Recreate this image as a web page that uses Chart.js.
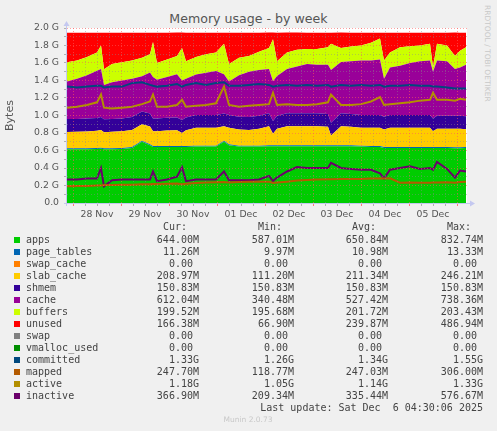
<!DOCTYPE html>
<html>
<head>
<meta charset="UTF-8">
<title>Memory usage - by week</title>
<script src="https://cdn.jsdelivr.net/npm/chart.js@4.4.1/dist/chart.umd.min.js"></script>
<style>
	body { margin:0; background:#f0f0f0; width:497px; height:431px; position:relative; overflow:hidden; font-family:'DejaVu Sans',sans-serif; }
	#box { position:absolute; left:0; top:0; width:497px; height:225px; }
	.t { position:absolute; white-space:pre; }
	.mono { font-family:'DejaVu Sans Mono',monospace; font-size:10px; color:#444; line-height:12px; }
</style>
</head>
<body>
	<div class="t" style="left:0;width:497px;top:11px;text-align:center;font-size:12.6px;color:#555">Memory usage - by week</div>
	<div class="t" style="left:483px;top:5px;writing-mode:vertical-rl;font-size:7.5px;color:#c8c8c8">RRDTOOL / TOBI OETIKER</div>
	<div id="box"><canvas id="myChart"></canvas></div>
	<div id="legend"></div>

	<script>
		// hours counted from 28 Nov 00:00
		let hours = [-3,2,7,12,14,15.5,19.5,24.5,29.5,34.5,38.5,40,42,47,52,54.5,56.5,61.5,66.5,71.5,75.5,78,83,88,93,98,100,102,107,112,117,122,127.5,129,134,139,144,149,153.5,155.5,158.5,163.5,168.5,173.5,178.5,180,182,187,191,193.5,196.5];
		let dayLabels = ['28 Nov','29 Nov','30 Nov','01 Dec','02 Dec','03 Dec','04 Dec','05 Dec'];

		// values in MB (stacked areas)
		let apps = [630,630,630,633,635,630,630,633,645,717, 676,655,655,655,655,655,655,660,660,660, 717,676,660,660,660,665,665,665,665,665, 665,665,665,665,665,665,660,655,655,645, 645,645,645,645,645,645,645,645,640,640, 644];
		let pageTables = [10.5,10.6,10.8,11.0,11.2,10.4,10.5,10.7,10.9,11.3, 11.1,11.5,10.9,11.0,11.1,11.4,11.0,11.1,11.2,11.3, 11.8,11.1,11.0,11.0,11.1,11.2,11.6,11.1,11.1,11.2, 11.1,11.2,11.2,11.6,11.1,11.1,11.1,11.2,11.4,11.0, 11.1,11.1,11.2,11.2,11.2,11.5,11.2,11.2,11.1,11.2, 11.3];
		let slabCache = [191,193,196,201,209,188,193,195,199,193, 209,173,173,181,184,153,184,209,209,209, 168,193,189,184,199,222,133,194,222,222, 222,222,215,112,222,215,209,214,214,204, 224,224,224,224,224,183,214,214,219,219, 209];
		let shmem = [150.83,150.83,150.83,150.83,150.83,150.83,150.83,150.83,150.83,150.83, 150.83,150.83,150.83,150.83,150.83,150.83,150.83,150.83,150.83,150.83, 150.83,150.83,150.83,150.83,150.83,150.83,150.83,150.83,150.83,150.83, 150.83,150.83,150.83,150.83,150.83,150.83,150.83,150.83,150.83,150.83, 150.83,150.83,150.83,150.83,150.83,150.83,150.83,150.83,150.83,150.83, 150.83];
		let cache = [440,469,507,551,561,402,428,443,448,412, 479,484,453,477,505,464,453,474,494,515, 458,392,484,530,535,518,464,464,518,549, 579,569,576,617,600,617,638,638,648,443, 556,576,607,627,638,546,648,638,546,566, 603];
		let buffers = [225,215,215,215,276,184,215,215,215,215, 215,410,195,205,215,379,205,205,215,215, 358,205,205,184,215,246,492,174,195,195, 174,184,205,307,164,174,174,205,246,215, 174,215,195,184,195,51,195,184,154,195, 205];
		let unused = [344,324,283,232,150,426,365,344,324,293, 252,109,355,314,273,181,334,283,252,232, 129,365,293,273,221,181,78,334,232,201, 191,191,170,129,181,160,150,119,68,324, 232,170,160,150,129,406,129,150,273,211, 170];

		// values in MB (lines)
		let committed = [1362,1352,1362,1372,1372,1352,1362,1362,1403,1413, 1382,1372,1362,1372,1393,1362,1382,1403,1382,1403, 1413,1372,1372,1382,1393,1382,1362,1372,1382,1372, 1382,1372,1382,1362,1382,1372,1382,1372,1382,1362, 1372,1372,1382,1372,1372,1362,1362,1352,1341,1341, 1341];
		let mapped = [195,198,200,205,205,210,212,215,215,218, 220,222,222,225,228,220,225,235,240,242, 245,240,245,248,250,250,235,240,250,262, 270,275,278,278,280,280,282,286,288,288, 290,238,240,238,236,240,240,242,238,245, 248];
		let active = [1116,1126,1147,1178,1270,1116,1106,1116,1126,1157, 1188,1270,1126,1126,1147,1208,1126,1137,1147,1167, 1362,1147,1126,1137,1147,1157,1290,1147,1157,1147, 1147,1157,1178,1270,1147,1147,1157,1188,1239,1147, 1157,1167,1178,1198,1208,1290,1208,1208,1198,1219, 1208];
		let inactive = [276,276,287,287,410,195,266,276,276,276, 276,369,256,276,307,420,256,276,276,276, 369,266,266,266,276,317,256,297,369,420, 410,410,410,471,410,399,389,389,348,287, 389,410,430,399,410,389,481,399,297,379, 369];

		// legend table
		let names = ['apps','page_tables','swap_cache','slab_cache','shmem','cache','buffers','unused','swap','vmalloc_used','committed','mapped','active','inactive'];
		let colors = ['#00CC00','#0066B3','#FF8000','#FFCC00','#330099','#990099','#CCFF00','#FF0000','#808080','#008F00','#00487D','#B35A00','#B38F00','#6B006B'];
		let curs = ['644.00M','11.26M','0.00 ','208.97M','150.83M','612.04M','199.52M','166.38M','0.00 ','0.00 ','1.33G','247.70M','1.18G','366.90M'];
		let mins = ['587.01M','9.97M','0.00 ','111.20M','150.83M','340.48M','195.68M','66.90M','0.00 ','0.00 ','1.26G','118.77M','1.05G','209.34M'];
		let avgs = ['650.84M','10.98M','0.00 ','211.34M','150.83M','527.42M','201.72M','239.87M','0.00 ','0.00 ','1.34G','247.03M','1.14G','335.44M'];
		let maxs = ['832.74M','13.33M','0.00 ','246.21M','150.83M','738.36M','203.43M','486.94M','0.00 ','0.00 ','1.55G','306.00M','1.33G','576.67M'];

		let colRight = [199, 294, 388, 483];
		let html = '';
		['Cur:  ','Min:  ','Avg:  ','Max:  '].forEach(function(h, c) {
			html += '<div class="t mono" style="top:221px;right:' + (497 - colRight[c]) + 'px">' + h + '</div>';
		});
		names.forEach(function(n, i) {
			let top = 234 + 12 * i;
			html += '<div class="t" style="left:14px;top:' + (top + 3) + 'px;width:6px;height:6px;background:' + colors[i] + '"></div>';
			html += '<div class="t mono" style="left:26px;top:' + top + 'px">' + n + '</div>';
			[curs, mins, avgs, maxs].forEach(function(col, c) {
				html += '<div class="t mono" style="top:' + top + 'px;right:' + (497 - colRight[c]) + 'px">' + col[i] + '</div>';
			});
		});
		html += '<div class="t mono" style="top:402px;right:14px">Last update: Sat Dec  6 04:30:06 2025</div>';
		html += '<div class="t" style="top:415px;left:0;width:496px;text-align:center;font-size:7.5px;color:#c8c8c8">Munin 2.0.73</div>';
		document.getElementById('legend').innerHTML = html;
	</script>

	<script>
		function pts(arr) {
			return hours.map(function(h, i) { return {x: h, y: arr[i]}; });
		}
		let areas = [
			['apps', apps, '#00CC00'], ['page_tables', pageTables, '#0066B3'], ['slab_cache', slabCache, '#FFCC00'],
			['shmem', shmem, '#330099'], ['cache', cache, '#990099'], ['buffers', buffers, '#CCFF00'], ['unused', unused, '#FF0000']
		];
		let lines = [
			['committed', committed, '#00487D'], ['mapped', mapped, '#B35A00'], ['active', active, '#B38F00'], ['inactive', inactive, '#6B006B']
		];
		let datasets = [];
		areas.forEach(function(a, i) {
			datasets.push({ label: a[0], data: pts(a[1]), backgroundColor: a[2], borderColor: a[2], borderWidth: 0,
				fill: i === 0 ? 'origin' : '-1', stack: 'mem', order: 1 });
		});
		lines.forEach(function(l) {
			datasets.push({ label: l[0], data: pts(l[1]), borderColor: l[2], borderWidth: 2, fill: false, stack: l[0], order: 0 });
		});

		const plotBg = {
			id: 'plotBg',
			beforeDraw(chart) {
				const a = chart.chartArea, ctx = chart.ctx;
				ctx.save(); ctx.fillStyle = '#ffffff';
				ctx.fillRect(a.left, a.top, a.right - a.left, a.bottom - a.top);
				ctx.restore();
			}
		};
		const arrows = {
			id: 'arrows',
			afterDraw(chart) {
				const a = chart.chartArea, ctx = chart.ctx;
				ctx.save();
				ctx.strokeStyle = '#c4c8f0'; ctx.fillStyle = '#c4c8f0'; ctx.lineWidth = 1;
				ctx.beginPath(); ctx.moveTo(a.left - 0.5, a.bottom + 3); ctx.lineTo(a.left - 0.5, a.top - 3); ctx.stroke();
				ctx.beginPath(); ctx.moveTo(a.left - 3.5, a.top - 2); ctx.lineTo(a.left + 2.5, a.top - 2); ctx.lineTo(a.left - 0.5, a.top - 7); ctx.fill();
				ctx.beginPath(); ctx.moveTo(a.left - 3, a.bottom + 0.5); ctx.lineTo(a.right + 4, a.bottom + 0.5); ctx.stroke();
				ctx.beginPath(); ctx.moveTo(a.right + 3, a.bottom - 2.5); ctx.lineTo(a.right + 3, a.bottom + 3.5); ctx.lineTo(a.right + 8, a.bottom + 0.5); ctx.fill();
				ctx.restore();
			}
		};

		new Chart('myChart', {
			type: 'line',
			data: { datasets: datasets },
			plugins: [plotBg, arrows],
			options: {
				animation: false,
				responsive: true,
				maintainAspectRatio: false,
				layout: { padding: { top: 28, right: 30, left: 0, bottom: 0 } },
				elements: { point: { radius: 0 }, line: { tension: 0 } },
				plugins: { legend: { display: false }, tooltip: { enabled: false } },
				scales: {
					x: {
						type: 'linear', min: -3, max: 197,
						afterFit: function(s) { s.height = 22; },
						afterBuildTicks: function(s) {
							let t = [];
							for (let v = 0; v <= 192; v += 6) t.push({ value: v });
							s.ticks = t;
						},
						ticks: {
							autoSkip: false, maxRotation: 0, padding: 3,
							color: '#555', font: { family: 'DejaVu Sans', size: 9.3 },
							callback: function(v) { return v % 24 === 12 ? dayLabels[(v - 12) / 24] : ''; }
						},
						grid: {
							z: 1, tickLength: 3,
							color: function(c) { return c.tick && c.tick.value % 24 === 0 ? 'rgba(255,90,90,0.6)' : 'rgba(140,140,140,0.45)'; },
							tickColor: function(c) { return c.tick && c.tick.value % 24 === 0 ? 'rgba(255,90,90,0.8)' : 'rgba(160,160,160,0.8)'; }
						},
						border: { display: false, dash: [1, 2] }
					},
					y: {
						stacked: true, min: 0, max: 2048,
						afterFit: function(s) { s.width = 67; },
						afterBuildTicks: function(s) {
							let t = [];
							for (let k = 0; k <= 20; k++) t.push({ value: k * 102.4 });
							s.ticks = t;
						},
						ticks: {
							autoSkip: false, padding: 5,
							color: '#555', font: { family: 'DejaVu Sans', size: 9.3 },
							callback: function(v) {
								let k = Math.round(v / 102.4);
								if (k % 2) return '';
								return k === 0 ? '0.0' : (k / 10).toFixed(1) + ' G';
							}
						},
						title: { display: true, text: 'Bytes', color: '#555', font: { family: 'DejaVu Sans', size: 11 }, padding: { top: 4, bottom: 0 } },
						grid: {
							z: 1, tickLength: 3,
							color: function(c) { return c.tick && Math.round(c.tick.value / 102.4) % 2 === 0 ? 'rgba(255,90,90,0.55)' : 'rgba(140,140,140,0.45)'; },
							tickColor: 'rgba(160,160,160,0.8)'
						},
						border: { display: false, dash: [1, 2] }
					}
				}
			}
		});
	</script>
</body>
</html>
